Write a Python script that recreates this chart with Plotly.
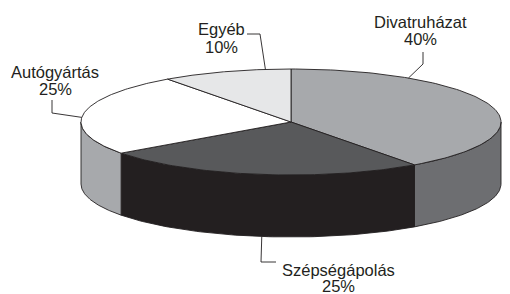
import numpy as np
import plotly.graph_objects as go

# ---- data ----
categories = ["Divatruházat", "Szépségápolás", "Autógyártás", "Egyéb"]
values = [40, 25, 25, 10]
top_colors = ["#a7a9ac", "#58595b", "#ffffff", "#e6e7e8"]
side_colors = ["#6d6e71", "#231f20", "#a7a9ac", "#a7a9ac"]

# ---- geometry (pixels) ----
CX, CY, RX, RY, DEPTH = 291, 122, 210, 53, 62
EDGE = "#231f20"
FONT = dict(family="Liberation Sans, Arial, sans-serif", size=16.5, color="#231f20")

def ex(t):
    return CX + RX * np.sin(np.radians(t))

def ey(t):
    return CY - RY * np.cos(np.radians(t))

total = sum(values)
bounds = np.concatenate([[0], np.cumsum(values) / total * 360.0])

fig = go.Figure()

# side faces (front half: 90..270 deg)
for i in range(len(values)):
    a0, a1 = max(bounds[i], 90), min(bounds[i + 1], 270)
    if a1 <= a0:
        continue
    t = np.linspace(a0, a1, 80)
    xs = np.concatenate([ex(t), ex(t[::-1])])
    ys = np.concatenate([ey(t), ey(t[::-1]) + DEPTH])
    fig.add_trace(go.Scatter(x=np.append(xs, xs[0]), y=np.append(ys, ys[0]),
                             mode="lines", fill="toself", fillcolor=side_colors[i],
                             line=dict(color=EDGE, width=0.9), hoverinfo="skip",
                             showlegend=False))

# top faces
for i in range(len(values)):
    t = np.linspace(bounds[i], bounds[i + 1], 120)
    xs = np.concatenate([[CX], ex(t), [CX]])
    ys = np.concatenate([[CY], ey(t), [CY]])
    fig.add_trace(go.Scatter(x=xs, y=ys, mode="lines", fill="toself",
                             fillcolor=top_colors[i],
                             line=dict(color=EDGE, width=0.9), hoverinfo="skip",
                             showlegend=False))

# labels with leader lines (tx: text centre x, ty1/ty2: centres of the two lines)
labels = [
    dict(tx=420, ty1=21.5, ty2=38.5, path=[(423, 52), (423, 64)], ang=34, bottom=False),
    dict(tx=338, ty1=269.5, ty2=285.5, path=[(276, 262), (261, 262)], ang=188, bottom=True),
    dict(tx=55, ty1=71.5, ty2=88.5, path=[(52, 100), (52, 113)], ang=275, bottom=False),
    dict(tx=221.5, ty1=29, ty2=46.5, path=[(247, 34), (260, 34)], ang=353, bottom=False),
]
for i, lb in enumerate(labels):
    px = [p[0] for p in lb["path"]] + [float(ex(lb["ang"]))]
    py = [p[1] for p in lb["path"]] + [float(ey(lb["ang"])) + (DEPTH if lb["bottom"] else 0)]
    fig.add_trace(go.Scatter(x=px, y=py, mode="lines",
                             line=dict(color=EDGE, width=0.9), hoverinfo="skip",
                             showlegend=False))
    fig.add_annotation(x=lb["tx"], y=lb["ty1"], xref="x", yref="y",
                       text=categories[i], showarrow=False, font=FONT,
                       xanchor="center", yanchor="middle")
    fig.add_annotation(x=lb["tx"], y=lb["ty2"], xref="x", yref="y",
                       text=f"{values[i]}%", showarrow=False, font=FONT,
                       xanchor="center", yanchor="middle")

fig.update_layout(
    width=510, height=294, margin=dict(l=0, r=0, t=0, b=0),
    paper_bgcolor="white", plot_bgcolor="white",
    xaxis=dict(range=[0, 510], visible=False, fixedrange=True),
    yaxis=dict(range=[294, 0], visible=False, fixedrange=True),
)
fig.write_html("out.html", config={"displayModeBar": False},
               post_script="document.body.style.margin='0';document.body.style.overflow='hidden';")
